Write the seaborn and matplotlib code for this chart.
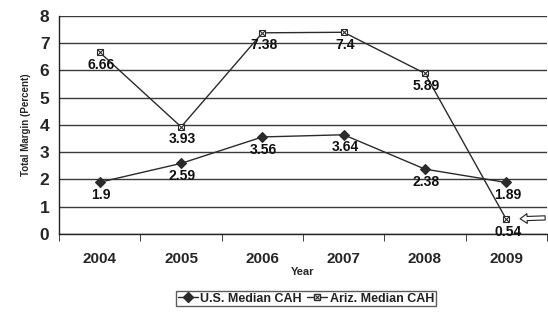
import pandas as pd
import seaborn as sns
import matplotlib.pyplot as plt
from matplotlib.lines import Line2D
from matplotlib.legend_handler import HandlerTuple

years = ['2004', '2005', '2006', '2007', '2008', '2009']
us_median = [1.9, 2.59, 3.56, 3.64, 2.38, 1.89]
az_median = [6.66, 3.93, 7.38, 7.4, 5.89, 0.54]

df = pd.DataFrame({'Year': years * 2,
                   'Margin': us_median + az_median,
                   'Series': ['U.S. Median CAH'] * 6 + ['Ariz. Median CAH'] * 6})

sns.set_style('white')
plt.rcParams['font.family'] = ['Liberation Sans', 'DejaVu Sans']

fig = plt.figure(figsize=(5.48, 3.12), dpi=100)
ax = fig.add_axes([0.108, 0.25, 0.89, 0.699])

line_col = '#2b2b2b'
sns.lineplot(data=df, x='Year', y='Margin', hue='Series', style='Series',
             markers={'U.S. Median CAH': 'D', 'Ariz. Median CAH': 's'},
             dashes=False, palette={'U.S. Median CAH': line_col, 'Ariz. Median CAH': line_col},
             markersize=5, linewidth=1.0, markeredgecolor=line_col, markeredgewidth=0.8,
             ax=ax, legend=False)

# hollow squares with a cross for Arizona
for ln in ax.lines:
    if ln.get_marker() == 's':
        ln.set_markerfacecolor('white')
sns.scatterplot(x=years, y=az_median, marker='x', s=14, color=line_col,
                linewidth=0.8, ax=ax, legend=False, zorder=5)

# data labels under the points
for vals in (us_median, az_median):
    for i, v in enumerate(vals):
        ax.annotate(f'{v:g}', (i, v), xytext=(1, -4), textcoords='offset points',
                    ha='center', va='top', fontsize=10, fontweight='bold', color='#111111')

# hollow arrow pointing at the 2009 Arizona value
ax.annotate('', xy=(5, az_median[5]), xytext=(28, 1), textcoords='offset points',
            xycoords='data',
            arrowprops=dict(arrowstyle='simple,head_length=0.5,head_width=0.7,tail_width=0.3',
                            fc='white', ec='#222222', lw=0.8, shrinkA=0, shrinkB=10),
            annotation_clip=False)

ax.set_xlim(-0.5, 5.5)
ax.set_ylim(0, 8)
ax.set_yticks(range(0, 9))
ax.yaxis.grid(True, color='#3a3a3a', linewidth=1.0)
ax.set_axisbelow(True)
for s in ['top', 'right']:
    ax.spines[s].set_visible(False)
for s in ['left', 'bottom']:
    ax.spines[s].set_color('#222222')
    ax.spines[s].set_linewidth(1.0)

ax.set_xticks([x + 0.5 for x in range(-1, 6)], minor=True)
ax.tick_params(axis='x', which='minor', length=5, color='#222222', direction='out', bottom=True)
ax.tick_params(axis='x', which='major', length=0, labelsize=11, pad=13)
ax.tick_params(axis='y', which='major', length=0, labelsize=12.5, pad=7)
for lab in ax.get_xticklabels() + ax.get_yticklabels():
    lab.set_fontweight('bold')

ax.set_xlabel('Year', fontsize=8, fontweight='bold', labelpad=1)
ax.set_ylabel('Total Margin (Percent)', fontsize=7, fontweight='bold', labelpad=6)

us_handle = Line2D([], [], color=line_col, lw=1.0, marker='D', ms=5, mec=line_col)
az_sq = Line2D([], [], color=line_col, lw=1.0, marker='s', ms=5, mfc='white', mec=line_col)
az_x = Line2D([], [], ls='none', marker='x', ms=3.5, mec=line_col, mew=0.8)
leg = ax.legend([us_handle, (az_sq, az_x)], ['U.S. Median CAH', 'Ariz. Median CAH'],
                handler_map={tuple: HandlerTuple(ndivide=1)},
                loc='upper center', bbox_to_anchor=(0.506, -0.26), ncol=2, frameon=True,
                fancybox=False, edgecolor='#333333', fontsize=9, handlelength=1.6,
                handletextpad=0.2, columnspacing=0.4, borderpad=0.15, borderaxespad=0)
for t in leg.get_texts():
    t.set_fontweight('bold')
    t.set_color('#222222')

fig.savefig('out.png', dpi=100)
